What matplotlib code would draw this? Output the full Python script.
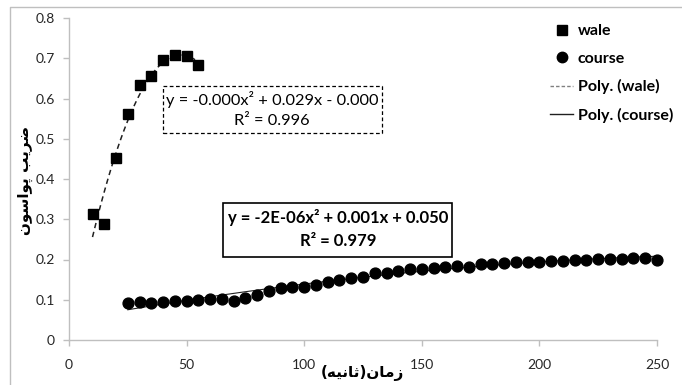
import numpy as np
import matplotlib
matplotlib.use("Agg")
import matplotlib.pyplot as plt
from matplotlib.lines import Line2D
from matplotlib.patches import Rectangle

plt.rcParams['font.family'] = ['Lato', 'DejaVu Sans']

# ---- data ----
wale_x = [10, 15, 20, 25, 30, 35, 40, 45, 50, 55]
wale_y = [0.313, 0.288, 0.451, 0.561, 0.634, 0.655, 0.695, 0.709, 0.705, 0.683]

course_x = list(range(25, 251, 5))
course_y = [0.091, 0.094, 0.093, 0.095, 0.096, 0.098, 0.099, 0.101, 0.102, 0.098,
            0.104, 0.113, 0.122, 0.128, 0.132, 0.132, 0.137, 0.143, 0.149, 0.155,
            0.157, 0.166, 0.167, 0.171,
            0.176, 0.176, 0.178, 0.181, 0.184, 0.181, 0.189, 0.190, 0.192, 0.193,
            0.195, 0.195, 0.197, 0.197, 0.199, 0.200, 0.201, 0.201, 0.202, 0.203,
            0.204, 0.200]

x_ticks = [0, 50, 100, 150, 200, 250]
y_ticks = [0, 0.1, 0.2, 0.3, 0.4, 0.5, 0.6, 0.7, 0.8]

legend_labels = ['wale', 'course', 'Poly. (wale)', 'Poly. (course)']
eq_wale = ['y = -0.000x\u00b2 + 0.029x - 0.000', 'R\u00b2 = 0.996']
eq_course = ['y = -2E-06x\u00b2 + 0.001x + 0.050', 'R\u00b2 = 0.979']

# Persian labels (logical: "زمان(ثانیه)" and "ضریب پواسون"), shaped into
# presentation forms in visual order because matplotlib has no bidi shaping
x_label = '(\uFEEA\uFBFF\uFEE7\uFE8E\uFE9B)\uFEE5\uFE8E\uFEE3\uFEAF'
y_label = '\uFEE5\uFEEE\uFEB3\uFE8D\uFEEE\uFB58 \uFE90\uFBFE\uFEAE\uFEBF'

W, H = 682, 385
fig = plt.figure(figsize=(W / 100, H / 100), dpi=100)

def fx(px):
    return px / W

def fy(py):
    return 1 - py / H

left, right, top, bottom = 69, 657, 18, 340
ax = fig.add_axes([fx(left), fy(bottom), fx(right) - fx(left), (bottom - top) / H])

# chart border (left and top visible)
fig.add_artist(Line2D([fx(10), fx(10), fx(W + 5)], [fy(H + 5), fy(7), fy(7)],
                      color='#bfbfbf', lw=1.0, transform=fig.transFigure))

# trend lines
pw = np.polyfit(wale_x, wale_y, 2)
xw = np.linspace(min(wale_x), max(wale_x), 100)
ax.plot(xw, np.polyval(pw, xw), color='#202020', lw=1.1, ls=(0, (3.5, 2.5)), zorder=2)
pc = np.polyfit(course_x, course_y, 2)
xc = np.linspace(min(course_x), max(course_x), 200)
ax.plot(xc, np.polyval(pc, xc), color='#202020', lw=0.8, zorder=2)

ax.plot(wale_x, wale_y, ls='none', marker='s', ms=7, color='black', clip_on=False, zorder=3)
ax.plot(course_x, course_y, ls='none', marker='o', ms=7.8, color='black', clip_on=False, zorder=3)

ax.set_xlim(0, 250)
ax.set_ylim(0, 0.8)
ax.set_xticks(x_ticks)
ax.set_yticks(y_ticks)
ax.set_xticklabels([str(v) for v in x_ticks])
ax.set_yticklabels(['0' if v == 0 else f'{v:.1f}' for v in y_ticks])
for s in ['top', 'right']:
    ax.spines[s].set_visible(False)
for s in ['left', 'bottom']:
    ax.spines[s].set_color('#bfbfbf')
    ax.spines[s].set_linewidth(1.0)
ax.tick_params(axis='both', direction='out', length=4, width=1.0, color='#bfbfbf',
               labelsize=10, labelcolor='#262626')
ax.tick_params(axis='x', pad=10)
ax.tick_params(axis='y', pad=6)

fig.text(fx(362), fy(373), x_label, ha='center', va='center', fontsize=11,
         fontweight='bold', family=['DejaVu Sans'], color='black')
fig.text(fx(25), fy(180), y_label, ha='center', va='center', fontsize=11,
         fontweight='bold', family=['DejaVu Sans'], rotation=90, color='black')

# equation boxes
ax.add_artist(Rectangle((fx(163), fy(133)), fx(382) - fx(163), (133 - 86) / H,
                        transform=fig.transFigure, fill=False, ec='black', lw=0.9,
                        ls=(0, (3, 2))))
fig.text(fx(272), fy(100), eq_wale[0], ha='center', va='center', fontsize=11.8, color='black')
fig.text(fx(272), fy(121), eq_wale[1], ha='center', va='center', fontsize=11.8, color='black')

ax.add_artist(Rectangle((fx(223), fy(257)), fx(452) - fx(223), (257 - 203) / H,
                        transform=fig.transFigure, fill=False, ec='black', lw=1.2))
fig.text(fx(338), fy(218), eq_course[0], ha='center', va='center', fontsize=12,
         fontweight='bold', color='black')
fig.text(fx(338), fy(241), eq_course[1], ha='center', va='center', fontsize=12,
         fontweight='bold', color='black')

# legend
handles = [
    Line2D([], [], ls='none', marker='s', ms=6.5, color='black'),
    Line2D([], [], ls='none', marker='o', ms=7.5, color='black'),
    Line2D([], [], ls=(0, (2.5, 1.5)), lw=1.0, color='#808080'),
    Line2D([], [], ls='-', lw=1.0, color='#202020'),
]
leg = fig.legend(handles, legend_labels, loc='upper left',
                 bbox_to_anchor=(fx(550), fy(24)), frameon=False,
                 prop={'weight': 'bold', 'size': 11.5}, handlelength=1.45,
                 handletextpad=0.3, labelspacing=0.84, borderpad=0, borderaxespad=0)

fig.savefig('out.png', dpi=100)
